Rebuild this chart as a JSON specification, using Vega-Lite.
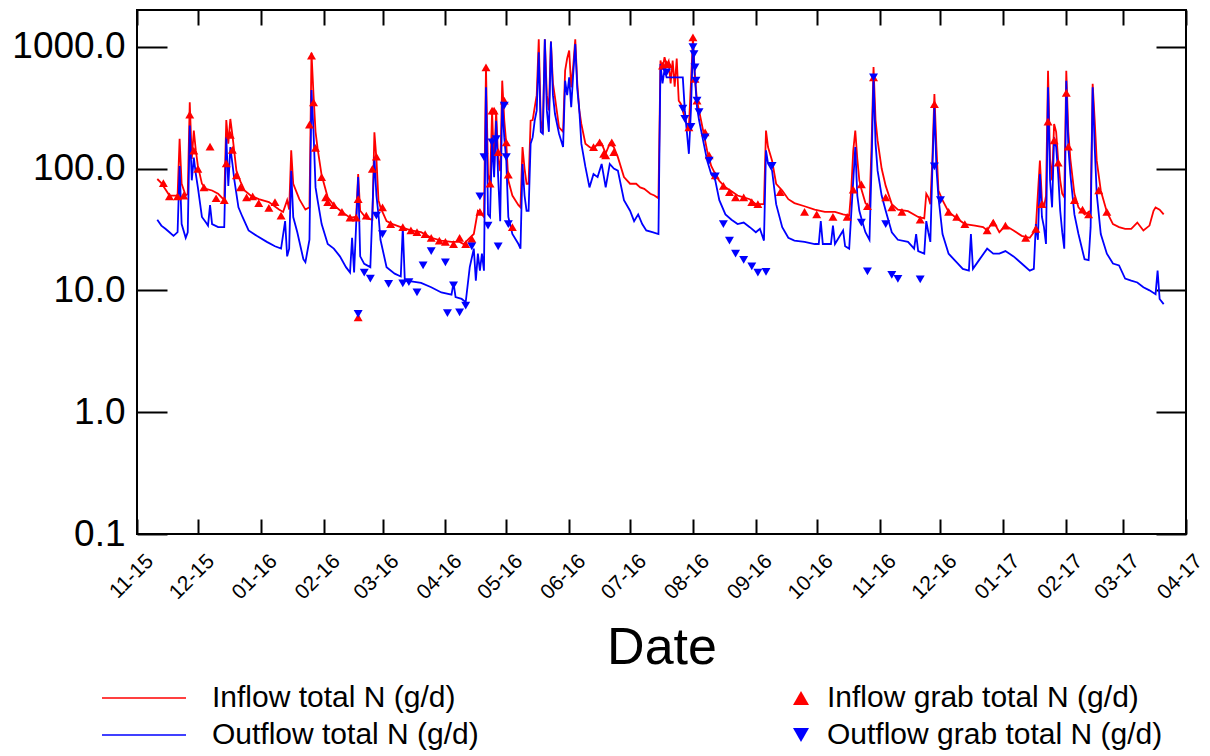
{
"$schema":"https://vega.github.io/schema/vega-lite/v6.json",
"width":1049,"height":524,
"autosize":{"type":"none"},
"padding":{"left":137,"top":10,"right":24,"bottom":222},
"background":"white",
"config":{"view":{"stroke":"black","strokeWidth":2},"font":"Liberation Sans",
"axis":{"labelFont":"Liberation Sans","titleFont":"Liberation Sans","labelColor":"black","titleColor":"black","tickColor":"black","tickWidth":2,"domain":false,"grid":false,"labelFlush":false,"labelOverlap":false},
"legend":{"labelFont":"Liberation Sans","labelColor":"black","labelFontSize":30,"labelLimit":800,"padding":0,"title":null}},
"datasets":{
"inflow":[
{"date":"2015-11-11","value":82},{"date":"2015-11-13","value":76},{"date":"2015-11-17","value":60},{"date":"2015-11-21","value":60},{"date":"2015-11-22","value":175},{"date":"2015-11-23","value":75},{"date":"2015-11-25","value":60},{"date":"2015-11-26","value":62},{"date":"2015-11-27","value":350},{"date":"2015-11-28","value":120},{"date":"2015-11-29","value":205},{"date":"2015-11-30","value":140},{"date":"2015-12-01","value":105},{"date":"2015-12-03","value":75},{"date":"2015-12-05","value":68},{"date":"2015-12-08","value":66},{"date":"2015-12-11","value":62},{"date":"2015-12-14","value":55},{"date":"2015-12-15","value":250},{"date":"2015-12-16","value":160},{"date":"2015-12-17","value":255},{"date":"2015-12-18","value":190},{"date":"2015-12-20","value":96},{"date":"2015-12-22","value":78},{"date":"2015-12-24","value":66},{"date":"2015-12-27","value":60},{"date":"2015-12-31","value":56},
{"date":"2016-01-05","value":53},{"date":"2016-01-10","value":46},{"date":"2016-01-12","value":44},{"date":"2016-01-14","value":55},{"date":"2016-01-15","value":46},{"date":"2016-01-16","value":141},{"date":"2016-01-17","value":75},{"date":"2016-01-20","value":56},{"date":"2016-01-23","value":46},{"date":"2016-01-25","value":48},{"date":"2016-01-26","value":890},{"date":"2016-01-27","value":400},{"date":"2016-01-28","value":200},{"date":"2016-01-29","value":146},{"date":"2016-01-31","value":88},
{"date":"2016-02-03","value":58},{"date":"2016-02-06","value":50},{"date":"2016-02-10","value":44},{"date":"2016-02-14","value":39.5},{"date":"2016-02-17","value":40},{"date":"2016-02-18","value":90},{"date":"2016-02-19","value":45},{"date":"2016-02-22","value":39},{"date":"2016-02-25","value":38},{"date":"2016-02-26","value":198},{"date":"2016-02-27","value":120},{"date":"2016-02-28","value":55},{"date":"2016-02-29","value":48},
{"date":"2016-03-03","value":37},{"date":"2016-03-06","value":35},{"date":"2016-03-10","value":33},{"date":"2016-03-15","value":31},{"date":"2016-03-20","value":30},{"date":"2016-03-25","value":27},{"date":"2016-03-30","value":25.6},
{"date":"2016-04-04","value":25},{"date":"2016-04-08","value":25},{"date":"2016-04-10","value":24},{"date":"2016-04-13","value":27},{"date":"2016-04-15","value":29},{"date":"2016-04-17","value":45},{"date":"2016-04-18","value":44},{"date":"2016-04-20","value":40},{"date":"2016-04-21","value":680},{"date":"2016-04-22","value":90},{"date":"2016-04-23","value":75},{"date":"2016-04-24","value":298},{"date":"2016-04-25","value":100},{"date":"2016-04-26","value":298},{"date":"2016-04-27","value":120},{"date":"2016-04-28","value":95},{"date":"2016-04-29","value":526},{"date":"2016-04-30","value":250},
{"date":"2016-05-01","value":160},{"date":"2016-05-02","value":80},{"date":"2016-05-04","value":60},{"date":"2016-05-07","value":50},{"date":"2016-05-08","value":48},{"date":"2016-05-09","value":150},{"date":"2016-05-10","value":100},{"date":"2016-05-11","value":75},{"date":"2016-05-12","value":75},{"date":"2016-05-13","value":247},{"date":"2016-05-14","value":250},{"date":"2016-05-15","value":318},{"date":"2016-05-16","value":400},{"date":"2016-05-17","value":1150},{"date":"2016-05-18","value":250},{"date":"2016-05-19","value":193},{"date":"2016-05-20","value":1150},{"date":"2016-05-21","value":400},{"date":"2016-05-22","value":300},{"date":"2016-05-23","value":1100},{"date":"2016-05-24","value":500},{"date":"2016-05-25","value":384},{"date":"2016-05-27","value":218},{"date":"2016-05-29","value":200},{"date":"2016-05-30","value":635},{"date":"2016-05-31","value":800},
{"date":"2016-06-01","value":930},{"date":"2016-06-02","value":464},{"date":"2016-06-03","value":700},{"date":"2016-06-04","value":1150},{"date":"2016-06-05","value":500},{"date":"2016-06-06","value":300},{"date":"2016-06-07","value":232},{"date":"2016-06-09","value":160},{"date":"2016-06-11","value":150},{"date":"2016-06-13","value":145},{"date":"2016-06-15","value":160},{"date":"2016-06-17","value":160},{"date":"2016-06-19","value":133},{"date":"2016-06-21","value":160},{"date":"2016-06-23","value":150},{"date":"2016-06-25","value":124},{"date":"2016-06-28","value":85},
{"date":"2016-07-01","value":75},{"date":"2016-07-04","value":75},{"date":"2016-07-06","value":70},{"date":"2016-07-08","value":68},{"date":"2016-07-11","value":62},{"date":"2016-07-13","value":60},{"date":"2016-07-15","value":57},{"date":"2016-07-16","value":770},{"date":"2016-07-17","value":650},{"date":"2016-07-18","value":820},{"date":"2016-07-19","value":700},{"date":"2016-07-20","value":760},{"date":"2016-07-21","value":500},{"date":"2016-07-22","value":770},{"date":"2016-07-23","value":470},{"date":"2016-07-24","value":800},{"date":"2016-07-25","value":360},{"date":"2016-07-26","value":340},{"date":"2016-07-27","value":298},{"date":"2016-07-28","value":260},{"date":"2016-07-29","value":230},{"date":"2016-07-30","value":218},{"date":"2016-07-31","value":500},
{"date":"2016-08-01","value":1190},{"date":"2016-08-02","value":560},{"date":"2016-08-03","value":360},{"date":"2016-08-04","value":300},{"date":"2016-08-06","value":205},{"date":"2016-08-08","value":140},{"date":"2016-08-10","value":105},{"date":"2016-08-12","value":90},{"date":"2016-08-14","value":79},{"date":"2016-08-17","value":70},{"date":"2016-08-20","value":65},{"date":"2016-08-23","value":60},{"date":"2016-08-26","value":58},{"date":"2016-08-29","value":56},
{"date":"2016-09-01","value":51},{"date":"2016-09-05","value":51},{"date":"2016-09-06","value":205},{"date":"2016-09-07","value":150},{"date":"2016-09-09","value":116},{"date":"2016-09-11","value":75},{"date":"2016-09-14","value":66},{"date":"2016-09-17","value":56},{"date":"2016-09-20","value":52},{"date":"2016-09-25","value":49},{"date":"2016-09-30","value":46},
{"date":"2016-10-05","value":44},{"date":"2016-10-10","value":44},{"date":"2016-10-14","value":42},{"date":"2016-10-17","value":41},{"date":"2016-10-18","value":66},{"date":"2016-10-19","value":140},{"date":"2016-10-20","value":205},{"date":"2016-10-21","value":120},{"date":"2016-10-22","value":80},{"date":"2016-10-23","value":68},{"date":"2016-10-25","value":52},{"date":"2016-10-27","value":48},{"date":"2016-10-28","value":150},{"date":"2016-10-29","value":680},{"date":"2016-10-30","value":250},{"date":"2016-10-31","value":170},
{"date":"2016-11-02","value":100},{"date":"2016-11-04","value":72},{"date":"2016-11-07","value":51},{"date":"2016-11-10","value":46},{"date":"2016-11-15","value":44.6},{"date":"2016-11-20","value":40},{"date":"2016-11-23","value":39},{"date":"2016-11-24","value":62},{"date":"2016-11-25","value":58},{"date":"2016-11-26","value":51},{"date":"2016-11-27","value":120},{"date":"2016-11-28","value":409},{"date":"2016-11-29","value":150},{"date":"2016-11-30","value":66},
{"date":"2016-12-02","value":55},{"date":"2016-12-05","value":44},{"date":"2016-12-09","value":39},{"date":"2016-12-13","value":35},{"date":"2016-12-18","value":34},{"date":"2016-12-22","value":33},{"date":"2016-12-24","value":31},{"date":"2016-12-27","value":37},{"date":"2016-12-30","value":30},
{"date":"2017-01-02","value":34},{"date":"2017-01-06","value":31},{"date":"2017-01-10","value":28},{"date":"2017-01-14","value":27},{"date":"2017-01-16","value":30},{"date":"2017-01-17","value":33},{"date":"2017-01-19","value":116},{"date":"2017-01-20","value":55},{"date":"2017-01-21","value":48},{"date":"2017-01-22","value":60},{"date":"2017-01-23","value":635},{"date":"2017-01-24","value":120},{"date":"2017-01-25","value":80},{"date":"2017-01-26","value":232},{"date":"2017-01-27","value":200},{"date":"2017-01-28","value":116},{"date":"2017-01-29","value":80},{"date":"2017-01-30","value":62},{"date":"2017-01-31","value":58},
{"date":"2017-02-01","value":635},{"date":"2017-02-02","value":200},{"date":"2017-02-03","value":120},{"date":"2017-02-05","value":62},{"date":"2017-02-07","value":48},{"date":"2017-02-10","value":42},{"date":"2017-02-13","value":45},{"date":"2017-02-14","value":495},{"date":"2017-02-15","value":250},{"date":"2017-02-16","value":116},{"date":"2017-02-18","value":66},{"date":"2017-02-21","value":44},{"date":"2017-02-24","value":35},{"date":"2017-02-27","value":33},
{"date":"2017-03-02","value":32},{"date":"2017-03-05","value":32},{"date":"2017-03-08","value":36},{"date":"2017-03-11","value":31},{"date":"2017-03-14","value":34},{"date":"2017-03-16","value":45},{"date":"2017-03-17","value":48},{"date":"2017-03-19","value":46},{"date":"2017-03-21","value":42}
],
"outflow":[
{"date":"2015-11-11","value":38},{"date":"2015-11-13","value":34},{"date":"2015-11-15","value":32},{"date":"2015-11-17","value":30},{"date":"2015-11-19","value":28},{"date":"2015-11-21","value":30},{"date":"2015-11-22","value":105},{"date":"2015-11-23","value":35},{"date":"2015-11-25","value":27},{"date":"2015-11-26","value":30},{"date":"2015-11-27","value":225},{"date":"2015-11-28","value":80},{"date":"2015-11-29","value":123},{"date":"2015-11-30","value":90},{"date":"2015-12-01","value":70},{"date":"2015-12-03","value":40},{"date":"2015-12-05","value":36},{"date":"2015-12-06","value":34},{"date":"2015-12-07","value":50},{"date":"2015-12-08","value":35},{"date":"2015-12-11","value":33},{"date":"2015-12-14","value":33},{"date":"2015-12-15","value":180},{"date":"2015-12-16","value":72},{"date":"2015-12-17","value":150},{"date":"2015-12-18","value":110},{"date":"2015-12-19","value":80},{"date":"2015-12-21","value":48},{"date":"2015-12-23","value":40},{"date":"2015-12-26","value":31},{"date":"2015-12-30","value":28},
{"date":"2016-01-04","value":25},{"date":"2016-01-08","value":23},{"date":"2016-01-11","value":22},{"date":"2016-01-13","value":37},{"date":"2016-01-14","value":19},{"date":"2016-01-15","value":22},{"date":"2016-01-16","value":96},{"date":"2016-01-17","value":40},{"date":"2016-01-19","value":30},{"date":"2016-01-22","value":18},{"date":"2016-01-23","value":17},{"date":"2016-01-25","value":26},{"date":"2016-01-26","value":440},{"date":"2016-01-27","value":200},{"date":"2016-01-28","value":70},{"date":"2016-01-29","value":55},{"date":"2016-01-31","value":35},
{"date":"2016-02-03","value":24},{"date":"2016-02-06","value":22},{"date":"2016-02-09","value":19},{"date":"2016-02-12","value":15.5},{"date":"2016-02-14","value":14},{"date":"2016-02-15","value":27},{"date":"2016-02-16","value":14},{"date":"2016-02-18","value":85},{"date":"2016-02-19","value":19},{"date":"2016-02-21","value":16.5},{"date":"2016-02-24","value":15.5},{"date":"2016-02-26","value":124},{"date":"2016-02-27","value":60},{"date":"2016-02-28","value":42},{"date":"2016-02-29","value":26},
{"date":"2016-03-03","value":15.5},{"date":"2016-03-07","value":13.7},{"date":"2016-03-10","value":13},{"date":"2016-03-11","value":33},{"date":"2016-03-12","value":12},{"date":"2016-03-16","value":11.8},{"date":"2016-03-20","value":11.5},{"date":"2016-03-25","value":10.6},{"date":"2016-03-30","value":9.6},
{"date":"2016-04-04","value":9.2},{"date":"2016-04-05","value":11.5},{"date":"2016-04-06","value":8.8},{"date":"2016-04-09","value":8.5},{"date":"2016-04-11","value":8},{"date":"2016-04-13","value":15.5},{"date":"2016-04-15","value":22},{"date":"2016-04-16","value":12},{"date":"2016-04-17","value":20},{"date":"2016-04-18","value":14.5},{"date":"2016-04-19","value":20},{"date":"2016-04-20","value":14.5},{"date":"2016-04-21","value":464},{"date":"2016-04-22","value":42},{"date":"2016-04-23","value":40},{"date":"2016-04-24","value":180},{"date":"2016-04-25","value":85},{"date":"2016-04-26","value":247},{"date":"2016-04-27","value":85},{"date":"2016-04-28","value":37},{"date":"2016-04-29","value":360},{"date":"2016-04-30","value":180},
{"date":"2016-05-01","value":116},{"date":"2016-05-02","value":40},{"date":"2016-05-04","value":29},{"date":"2016-05-07","value":24},{"date":"2016-05-08","value":22},{"date":"2016-05-09","value":109},{"date":"2016-05-10","value":60},{"date":"2016-05-11","value":45},{"date":"2016-05-12","value":45},{"date":"2016-05-13","value":160},{"date":"2016-05-14","value":180},{"date":"2016-05-15","value":247},{"date":"2016-05-16","value":300},{"date":"2016-05-17","value":900},{"date":"2016-05-18","value":200},{"date":"2016-05-19","value":193},{"date":"2016-05-20","value":1150},{"date":"2016-05-21","value":300},{"date":"2016-05-22","value":200},{"date":"2016-05-23","value":1100},{"date":"2016-05-24","value":400},{"date":"2016-05-25","value":280},{"date":"2016-05-27","value":193},{"date":"2016-05-29","value":150},{"date":"2016-05-30","value":526},{"date":"2016-05-31","value":400},
{"date":"2016-06-01","value":560},{"date":"2016-06-02","value":318},{"date":"2016-06-03","value":600},{"date":"2016-06-04","value":1050},{"date":"2016-06-05","value":450},{"date":"2016-06-06","value":300},{"date":"2016-06-07","value":160},{"date":"2016-06-09","value":103},{"date":"2016-06-11","value":70},{"date":"2016-06-13","value":90},{"date":"2016-06-15","value":85},{"date":"2016-06-17","value":109},{"date":"2016-06-19","value":70},{"date":"2016-06-21","value":109},{"date":"2016-06-23","value":100},{"date":"2016-06-25","value":96},{"date":"2016-06-28","value":55},
{"date":"2016-07-01","value":45},{"date":"2016-07-03","value":37},{"date":"2016-07-05","value":42},{"date":"2016-07-07","value":35},{"date":"2016-07-09","value":31},{"date":"2016-07-12","value":30},{"date":"2016-07-15","value":29},{"date":"2016-07-16","value":720},{"date":"2016-07-17","value":500},{"date":"2016-07-18","value":650},{"date":"2016-07-19","value":560},{"date":"2016-07-27","value":560},{"date":"2016-07-28","value":300},{"date":"2016-07-29","value":200},{"date":"2016-07-30","value":132},{"date":"2016-07-31","value":300},
{"date":"2016-08-01","value":1050},{"date":"2016-08-02","value":550},{"date":"2016-08-03","value":318},{"date":"2016-08-04","value":250},{"date":"2016-08-06","value":170},{"date":"2016-08-08","value":116},{"date":"2016-08-10","value":90},{"date":"2016-08-12","value":80},{"date":"2016-08-14","value":55},{"date":"2016-08-17","value":42},{"date":"2016-08-20","value":38},{"date":"2016-08-23","value":35},{"date":"2016-08-26","value":36},{"date":"2016-08-29","value":33},
{"date":"2016-09-01","value":30},{"date":"2016-09-03","value":32},{"date":"2016-09-05","value":25.6},{"date":"2016-09-06","value":141},{"date":"2016-09-07","value":110},{"date":"2016-09-09","value":96},{"date":"2016-09-11","value":51},{"date":"2016-09-14","value":33},{"date":"2016-09-17","value":27},{"date":"2016-09-20","value":25.6},{"date":"2016-09-25","value":25},{"date":"2016-09-30","value":24},
{"date":"2016-10-02","value":24},{"date":"2016-10-03","value":37},{"date":"2016-10-04","value":24},{"date":"2016-10-08","value":24},{"date":"2016-10-09","value":34},{"date":"2016-10-10","value":24},{"date":"2016-10-14","value":31},{"date":"2016-10-15","value":23},{"date":"2016-10-17","value":22},{"date":"2016-10-18","value":42},{"date":"2016-10-20","value":150},{"date":"2016-10-21","value":60},{"date":"2016-10-22","value":45},{"date":"2016-10-23","value":39},{"date":"2016-10-25","value":30},{"date":"2016-10-27","value":26},{"date":"2016-10-28","value":100},{"date":"2016-10-29","value":560},{"date":"2016-10-30","value":160},{"date":"2016-10-31","value":96},
{"date":"2016-11-02","value":60},{"date":"2016-11-04","value":45},{"date":"2016-11-07","value":30},{"date":"2016-11-10","value":26},{"date":"2016-11-15","value":25},{"date":"2016-11-18","value":22},{"date":"2016-11-19","value":29},{"date":"2016-11-20","value":21},{"date":"2016-11-23","value":20},{"date":"2016-11-24","value":37},{"date":"2016-11-25","value":30},{"date":"2016-11-26","value":25},{"date":"2016-11-27","value":100},{"date":"2016-11-28","value":318},{"date":"2016-11-29","value":100},{"date":"2016-11-30","value":58},
{"date":"2016-12-02","value":29},{"date":"2016-12-05","value":20},{"date":"2016-12-09","value":17},{"date":"2016-12-12","value":15},{"date":"2016-12-15","value":14.5},{"date":"2016-12-16","value":29},{"date":"2016-12-17","value":15},{"date":"2016-12-20","value":17.7},{"date":"2016-12-24","value":22},{"date":"2016-12-27","value":20},{"date":"2016-12-30","value":20},
{"date":"2017-01-02","value":21},{"date":"2017-01-06","value":19},{"date":"2017-01-10","value":16.6},{"date":"2017-01-14","value":14.5},{"date":"2017-01-16","value":15},{"date":"2017-01-17","value":35},{"date":"2017-01-18","value":26},{"date":"2017-01-19","value":90},{"date":"2017-01-20","value":40},{"date":"2017-01-21","value":33},{"date":"2017-01-22","value":24},{"date":"2017-01-23","value":464},{"date":"2017-01-24","value":80},{"date":"2017-01-25","value":48},{"date":"2017-01-26","value":180},{"date":"2017-01-27","value":150},{"date":"2017-01-28","value":90},{"date":"2017-01-29","value":45},{"date":"2017-01-30","value":30},{"date":"2017-01-31","value":22},
{"date":"2017-02-01","value":526},{"date":"2017-02-02","value":150},{"date":"2017-02-03","value":90},{"date":"2017-02-05","value":42},{"date":"2017-02-07","value":29},{"date":"2017-02-10","value":18},{"date":"2017-02-12","value":17.7},{"date":"2017-02-13","value":33},{"date":"2017-02-14","value":464},{"date":"2017-02-15","value":150},{"date":"2017-02-16","value":62},{"date":"2017-02-18","value":29},{"date":"2017-02-21","value":20},{"date":"2017-02-24","value":16.6},{"date":"2017-02-27","value":16},
{"date":"2017-03-02","value":12.5},{"date":"2017-03-05","value":12},{"date":"2017-03-08","value":11.6},{"date":"2017-03-11","value":10.6},{"date":"2017-03-14","value":10},{"date":"2017-03-17","value":9.3},{"date":"2017-03-18","value":14.5},{"date":"2017-03-19","value":8.5},{"date":"2017-03-21","value":7.7}
],
"inflowGrab":[
{"date":"2015-11-14","value":76},{"date":"2015-11-17","value":59},{"date":"2015-11-21","value":59},{"date":"2015-11-24","value":60},{"date":"2015-11-27","value":277},{"date":"2015-11-29","value":140},{"date":"2015-12-01","value":99.5},{"date":"2015-12-04","value":70},{"date":"2015-12-07","value":151},{"date":"2015-12-10","value":57},{"date":"2015-12-14","value":55},{"date":"2015-12-15","value":110},{"date":"2015-12-17","value":189},{"date":"2015-12-18","value":142},{"date":"2015-12-20","value":88},{"date":"2015-12-22","value":70},{"date":"2015-12-25","value":58},{"date":"2015-12-28","value":59},{"date":"2015-12-31","value":52},
{"date":"2016-01-05","value":47.5},{"date":"2016-01-08","value":53},{"date":"2016-01-11","value":41},{"date":"2016-01-25","value":229},{"date":"2016-01-26","value":845},{"date":"2016-01-27","value":349},{"date":"2016-01-28","value":148},{"date":"2016-01-31","value":85},
{"date":"2016-02-02","value":58},{"date":"2016-02-03","value":53},{"date":"2016-02-06","value":50},{"date":"2016-02-10","value":44},{"date":"2016-02-14","value":39.5},{"date":"2016-02-17","value":39.5},{"date":"2016-02-18","value":6},{"date":"2016-02-18","value":56},{"date":"2016-02-22","value":41},{"date":"2016-02-25","value":99.5},{"date":"2016-02-27","value":125},
{"date":"2016-03-01","value":48},{"date":"2016-03-05","value":35},{"date":"2016-03-11","value":33},{"date":"2016-03-15","value":31},{"date":"2016-03-18","value":30},{"date":"2016-03-22","value":29},{"date":"2016-03-25","value":27},{"date":"2016-03-29","value":25.6},
{"date":"2016-04-01","value":25},{"date":"2016-04-05","value":24},{"date":"2016-04-08","value":27},{"date":"2016-04-11","value":24},{"date":"2016-04-14","value":26.5},{"date":"2016-04-18","value":44},{"date":"2016-04-21","value":676},{"date":"2016-04-23","value":75},{"date":"2016-04-24","value":298},{"date":"2016-04-25","value":298},{"date":"2016-04-27","value":136},{"date":"2016-04-30","value":360},{"date":"2016-05-01","value":164},{"date":"2016-05-02","value":89},{"date":"2016-05-04","value":33},
{"date":"2016-06-13","value":150},{"date":"2016-06-16","value":164},{"date":"2016-06-18","value":132},{"date":"2016-06-19","value":128},{"date":"2016-06-22","value":164},{"date":"2016-06-23","value":136},
{"date":"2016-07-17","value":700},{"date":"2016-07-19","value":720},{"date":"2016-07-20","value":720},{"date":"2016-07-30","value":218},{"date":"2016-08-01","value":1190},{"date":"2016-08-02","value":543},{"date":"2016-08-03","value":360},{"date":"2016-08-07","value":198},{"date":"2016-08-09","value":128},{"date":"2016-08-12","value":88},{"date":"2016-08-16","value":72},{"date":"2016-08-19","value":64},{"date":"2016-08-22","value":58},{"date":"2016-08-26","value":58},{"date":"2016-08-30","value":53},
{"date":"2016-09-02","value":51},{"date":"2016-09-13","value":64},{"date":"2016-09-25","value":44},{"date":"2016-10-01","value":42},{"date":"2016-10-09","value":40},{"date":"2016-10-16","value":40},{"date":"2016-10-19","value":67},{"date":"2016-10-23","value":74},{"date":"2016-10-26","value":49},{"date":"2016-10-29","value":560},
{"date":"2016-11-04","value":58},{"date":"2016-11-07","value":48},{"date":"2016-11-12","value":44},{"date":"2016-11-21","value":38},{"date":"2016-11-28","value":338},{"date":"2016-12-05","value":44},{"date":"2016-12-09","value":40},{"date":"2016-12-13","value":35},{"date":"2016-12-24","value":31},{"date":"2016-12-27","value":36},
{"date":"2017-01-02","value":34},{"date":"2017-01-12","value":27},{"date":"2017-01-17","value":32},{"date":"2017-01-20","value":51},{"date":"2017-01-23","value":243},{"date":"2017-01-26","value":170},{"date":"2017-01-28","value":112},{"date":"2017-02-01","value":417},{"date":"2017-02-02","value":151},{"date":"2017-02-05","value":55},{"date":"2017-02-09","value":46},{"date":"2017-02-12","value":42},{"date":"2017-02-17","value":66},{"date":"2017-02-21","value":44}
],
"outflowGrab":[
{"date":"2016-02-18","value":6.4},{"date":"2016-02-21","value":14},{"date":"2016-02-24","value":12.5},{"date":"2016-02-27","value":41},{"date":"2016-03-01","value":29},{"date":"2016-03-04","value":11.3},{"date":"2016-03-11","value":11.4},{"date":"2016-03-14","value":11.7},{"date":"2016-03-18","value":9.6},{"date":"2016-03-21","value":16},{"date":"2016-03-25","value":21},
{"date":"2016-04-01","value":17},{"date":"2016-04-02","value":6.5},{"date":"2016-04-05","value":11},{"date":"2016-04-08","value":6.6},{"date":"2016-04-11","value":7.5},{"date":"2016-04-14","value":23},{"date":"2016-04-18","value":59},{"date":"2016-04-20","value":124},{"date":"2016-04-22","value":34},{"date":"2016-04-24","value":164},{"date":"2016-04-26","value":174},{"date":"2016-04-27","value":23},{"date":"2016-04-30","value":328},{"date":"2016-05-01","value":124},{"date":"2016-05-02","value":35},
{"date":"2016-07-19","value":615},{"date":"2016-07-27","value":310},{"date":"2016-07-28","value":255},{"date":"2016-07-31","value":220},{"date":"2016-08-01T00:00:00Z","value":990},{"date":"2016-08-01T12:00:00Z","value":870},{"date":"2016-08-02T00:00:00Z","value":676},{"date":"2016-08-02T12:00:00Z","value":526},{"date":"2016-08-03","value":360},{"date":"2016-08-04","value":290},{"date":"2016-08-07","value":180},{"date":"2016-08-09","value":116},{"date":"2016-08-12","value":86},{"date":"2016-08-16","value":35},{"date":"2016-08-19","value":25.6},{"date":"2016-08-22","value":20},{"date":"2016-08-26","value":17.8},{"date":"2016-08-30","value":15.7},{"date":"2016-09-02","value":14},{"date":"2016-09-06","value":14.2},{"date":"2016-09-09","value":105},
{"date":"2016-10-23","value":36},{"date":"2016-10-26","value":14.3},{"date":"2016-10-29","value":560},{"date":"2016-11-04","value":35},{"date":"2016-11-07","value":13.4},{"date":"2016-11-10","value":12.4},{"date":"2016-11-21","value":12.3},{"date":"2016-11-28","value":104},{"date":"2016-12-01","value":55}
]
},
"layer":[
{"data":{"name":"inflow"},
 "mark":{"type":"line","strokeWidth":1.8},
 "encoding":{
  "x":{"field":"date","type":"temporal","scale":{"type":"utc","domain":[{"year":2015,"month":11,"date":1,"utc":true},{"year":2017,"month":4,"date":1,"utc":true}],"nice":false},
   "axis":{"orient":"bottom","format":"%m-%y","tickCount":{"interval":"month","step":1},"labelAngle":-45,"labelAlign":"right","labelBaseline":"top","labelFontSize":21,"labelPadding":31,"labelOffset":5,"tickSize":-15,"title":"Date","titleFontSize":52,"titleFontWeight":"normal","titleBaseline":"alphabetic","titleY":129}},
  "y":{"field":"value","type":"quantitative","scale":{"type":"log","domain":[0.1,2000],"nice":false},
   "axis":{"orient":"left","values":[0.1,1,10,100,1000],"format":".1f","labelFontSize":37,"labelPadding":42,"tickSize":-30,"title":null}},
  "stroke":{"datum":"Inflow total N (g/d)","type":"nominal","scale":{"domain":["Inflow total N (g/d)","Outflow total N (g/d)"],"range":["#ff0000","#0000ff"]},
   "legend":{"orient":"none","legendX":-8,"legendY":673,"symbolType":"M-4,0H4","symbolSize":441,"symbolStrokeWidth":1.5,"labelOffset":53,"rowPadding":7,"labelFontSize":30}}
 }},
{"data":{"name":"outflow"},
 "mark":{"type":"line","strokeWidth":1.8},
 "encoding":{
  "x":{"field":"date","type":"temporal","axis":{"orient":"top","labels":false,"tickSize":-15,"tickCount":{"interval":"month","step":1},"title":null}},
  "y":{"field":"value","type":"quantitative","axis":{"orient":"right","labels":false,"values":[0.1,1,10,100,1000],"tickSize":-30,"title":null}},
  "stroke":{"datum":"Outflow total N (g/d)","type":"nominal"}
 }},
{"data":{"name":"inflowGrab"},
 "mark":{"type":"point","filled":true,"size":80,"opacity":1,"strokeWidth":0},
 "encoding":{
  "x":{"field":"date","type":"temporal","axis":null},
  "y":{"field":"value","type":"quantitative","axis":null},
  "shape":{"datum":"Inflow grab total N (g/d)","type":"nominal","scale":{"domain":["Inflow grab total N (g/d)","Outflow grab total N (g/d)"],"range":["triangle-up","triangle-down"]},
   "legend":{"orient":"none","legendX":649,"legendY":673,"symbolSize":256,"labelOffset":11,"rowPadding":7,"labelFontSize":30,"symbolStrokeWidth":0}},
  "fill":{"datum":"Inflow grab total N (g/d)","type":"nominal","scale":{"domain":["Inflow grab total N (g/d)","Outflow grab total N (g/d)"],"range":["#ff0000","#0000ff"]},
   "legend":{"orient":"none","legendX":649,"legendY":673,"symbolSize":256,"labelOffset":11,"rowPadding":7,"labelFontSize":30,"symbolStrokeWidth":0}}
 }},
{"data":{"name":"outflowGrab"},
 "mark":{"type":"point","filled":true,"size":80,"opacity":1,"strokeWidth":0},
 "encoding":{
  "x":{"field":"date","type":"temporal","axis":null},
  "y":{"field":"value","type":"quantitative","axis":null},
  "shape":{"datum":"Outflow grab total N (g/d)","type":"nominal"},
  "fill":{"datum":"Outflow grab total N (g/d)","type":"nominal"}
 }}
],
"resolve":{"axis":{"x":"independent","y":"independent"}}
}
